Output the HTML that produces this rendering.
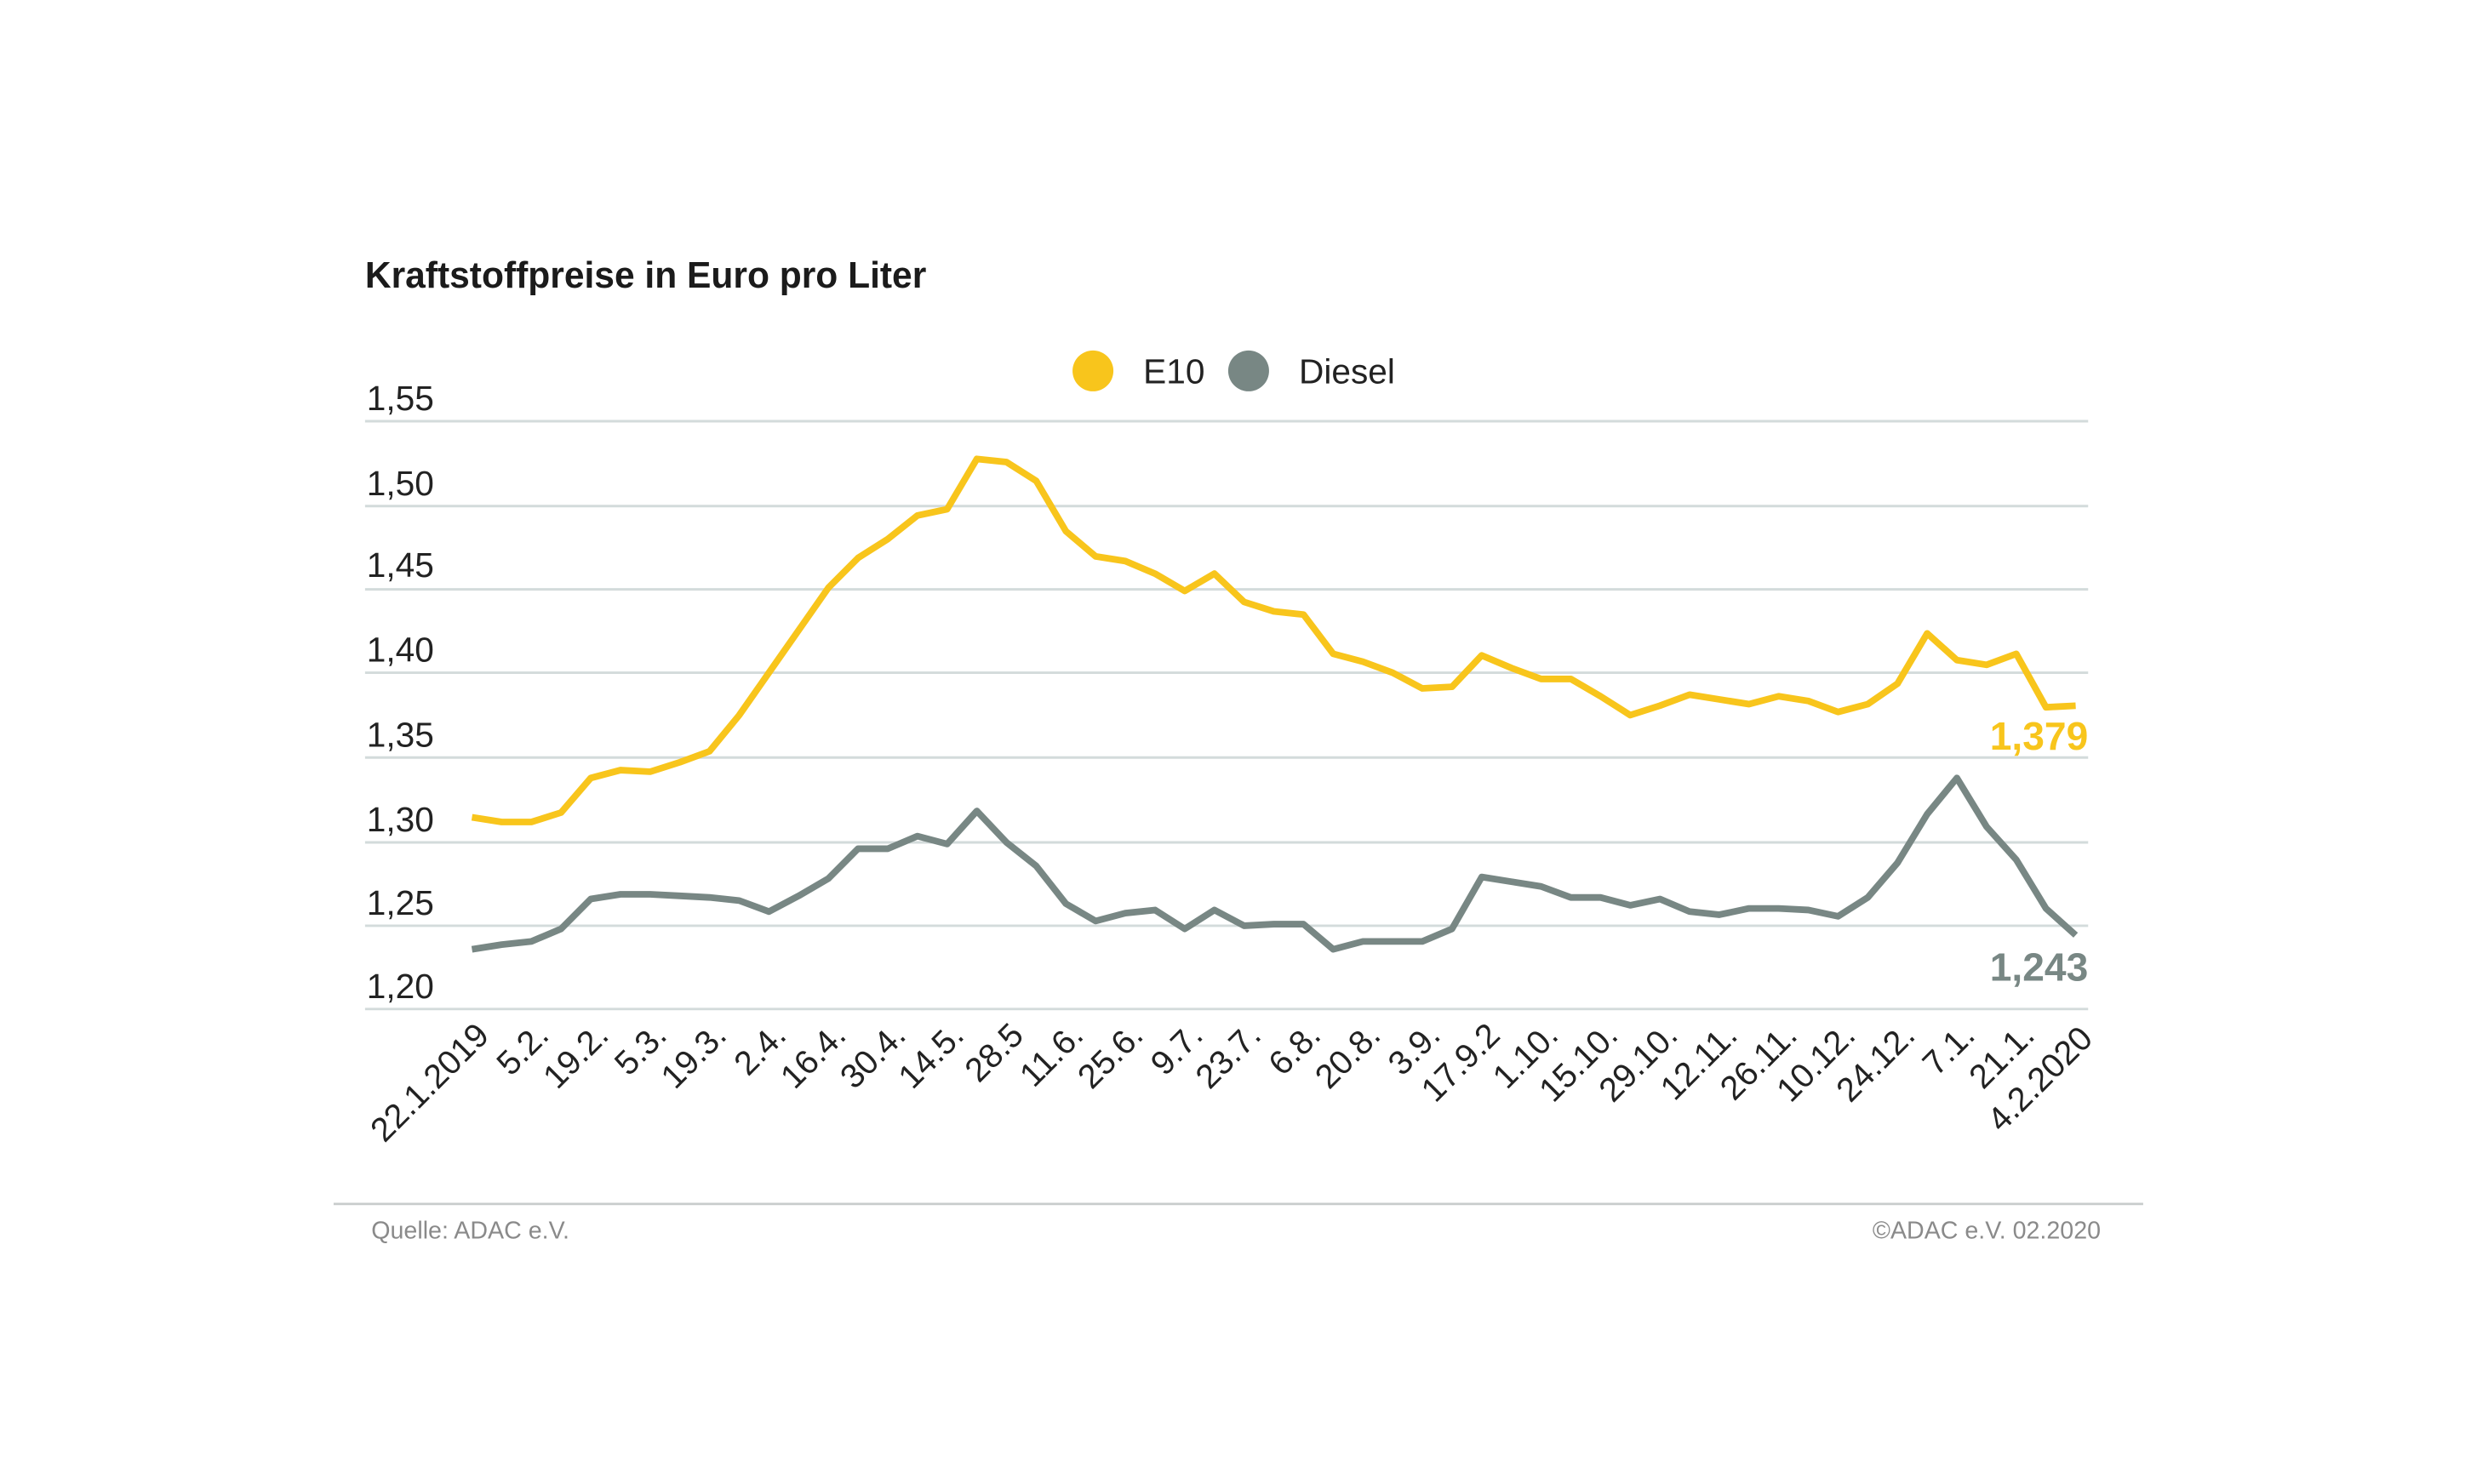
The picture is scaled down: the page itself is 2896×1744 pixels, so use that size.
<!DOCTYPE html>
<html><head><meta charset="utf-8"><style>
html,body{margin:0;padding:0;background:#fff;}
svg{display:block;}
text{font-family:"Liberation Sans",sans-serif;}
</style></head><body>
<svg width="2896" height="1744" viewBox="0 0 1567.5 944.2" xmlns="http://www.w3.org/2000/svg">
<rect width="1568" height="945" fill="#fff"/>
<text x="232" y="183" font-size="23.5" font-weight="bold" fill="#1b1b1b" textLength="357" lengthAdjust="spacingAndGlyphs">Kraftstoffpreise in Euro pro Liter</text>
<circle cx="695" cy="236" r="13" fill="#f8c51c"/>
<text x="727" y="244" font-size="22" fill="#222">E10</text>
<circle cx="794" cy="236" r="13" fill="#788784"/>
<text x="826" y="244" font-size="22" fill="#222">Diesel</text>
<g stroke="#d3dbdb" stroke-width="1.6">
<line x1="232" x2="1328" y1="268" y2="268"/>
<line x1="232" x2="1328" y1="322" y2="322"/>
<line x1="232" x2="1328" y1="375" y2="375"/>
<line x1="232" x2="1328" y1="428" y2="428"/>
<line x1="232" x2="1328" y1="482" y2="482"/>
<line x1="232" x2="1328" y1="536" y2="536"/>
<line x1="232" x2="1328" y1="589" y2="589"/>
<line x1="232" x2="1328" y1="642" y2="642"/>
</g>
<g font-size="22" fill="#222">
<text x="233" y="261">1,55</text>
<text x="233" y="315">1,50</text>
<text x="233" y="367">1,45</text>
<text x="233" y="421">1,40</text>
<text x="233" y="475">1,35</text>
<text x="233" y="529">1,30</text>
<text x="233" y="582">1,25</text>
<text x="233" y="635">1,20</text>
</g>
<g transform="translate(300,0) scale(18.89,1)" fill="none" stroke-width="7.8" stroke-linejoin="round">
<polyline vector-effect="non-scaling-stroke" stroke="#f8c51c" points="0,520 1,523 2,523 3,517 4,495 5,490 6,491 7,485 8,478 9,455 10,428 11,401 12,374 13,355 14,343 15,328 16,324 17,292 18,294 19,306 20,338 21,354 22,357 23,365 24,376 25,365 26,383 27,389 28,391 29,416 30,421 31,428 32,438 33,437 34,417 35,425 36,432 37,432 38,443 39,455 40,449 41,442 42,445 43,448 44,443 45,446 46,453 47,448 48,435 49,403 50,420 51,423 52,416 53,450 54,449"/>
<polyline vector-effect="non-scaling-stroke" stroke="#788784" points="0,604 1,601 2,599 3,591 4,572 5,569 6,569 7,570 8,571 9,573 10,580 11,570 12,559 13,540 14,540 15,532 16,537 17,516 18,536 19,551 20,575 21,586 22,581 23,579 24,591 25,579 26,589 27,588 28,588 29,604 30,599 31,599 32,599 33,591 34,558 35,561 36,564 37,571 38,571 39,576 40,572 41,580 42,582 43,578 44,578 45,579 46,583 47,571 48,549 49,518 50,495 51,526 52,547 53,578 54,595"/>
</g>
<text x="1328" y="477" font-size="25" font-weight="bold" fill="#f8c51c" text-anchor="end">1,379</text>
<text x="1328" y="624" font-size="25" font-weight="bold" fill="#788784" text-anchor="end">1,243</text>
<g font-size="21.5" fill="#222" text-anchor="end">
<text transform="translate(312,660) rotate(-45)">22.1.2019</text>
<text transform="translate(350,660) rotate(-45)">5.2.</text>
<text transform="translate(388,660) rotate(-45)">19.2.</text>
<text transform="translate(425,660) rotate(-45)">5.3.</text>
<text transform="translate(463,660) rotate(-45)">19.3.</text>
<text transform="translate(501,660) rotate(-45)">2.4.</text>
<text transform="translate(539,660) rotate(-45)">16.4.</text>
<text transform="translate(577,660) rotate(-45)">30.4.</text>
<text transform="translate(614,660) rotate(-45)">14.5.</text>
<text transform="translate(652,660) rotate(-45)">28.5</text>
<text transform="translate(690,660) rotate(-45)">11.6.</text>
<text transform="translate(728,660) rotate(-45)">25.6.</text>
<text transform="translate(766,660) rotate(-45)">9.7.</text>
<text transform="translate(803,660) rotate(-45)">23.7.</text>
<text transform="translate(841,660) rotate(-45)">6.8.</text>
<text transform="translate(879,660) rotate(-45)">20.8.</text>
<text transform="translate(917,660) rotate(-45)">3.9.</text>
<text transform="translate(955,660) rotate(-45)">17.9.2</text>
<text transform="translate(992,660) rotate(-45)">1.10.</text>
<text transform="translate(1030,660) rotate(-45)">15.10.</text>
<text transform="translate(1068,660) rotate(-45)">29.10.</text>
<text transform="translate(1106,660) rotate(-45)">12.11.</text>
<text transform="translate(1144,660) rotate(-45)">26.11.</text>
<text transform="translate(1181,660) rotate(-45)">10.12.</text>
<text transform="translate(1219,660) rotate(-45)">24.12.</text>
<text transform="translate(1257,660) rotate(-45)">7.1.</text>
<text transform="translate(1295,660) rotate(-45)">21.1.</text>
<text transform="translate(1332,662) rotate(-45)">4.2.2020</text>
</g>
<line x1="212" x2="1363" y1="766" y2="766" stroke="#c8cccc" stroke-width="1.5"/>
<text x="236" y="788" font-size="15.5" fill="#8a8a8a">Quelle: ADAC e.V.</text>
<text x="1336" y="788" font-size="15.5" fill="#8a8a8a" text-anchor="end">©ADAC e.V.  02.2020</text>
</svg>
</body></html>
